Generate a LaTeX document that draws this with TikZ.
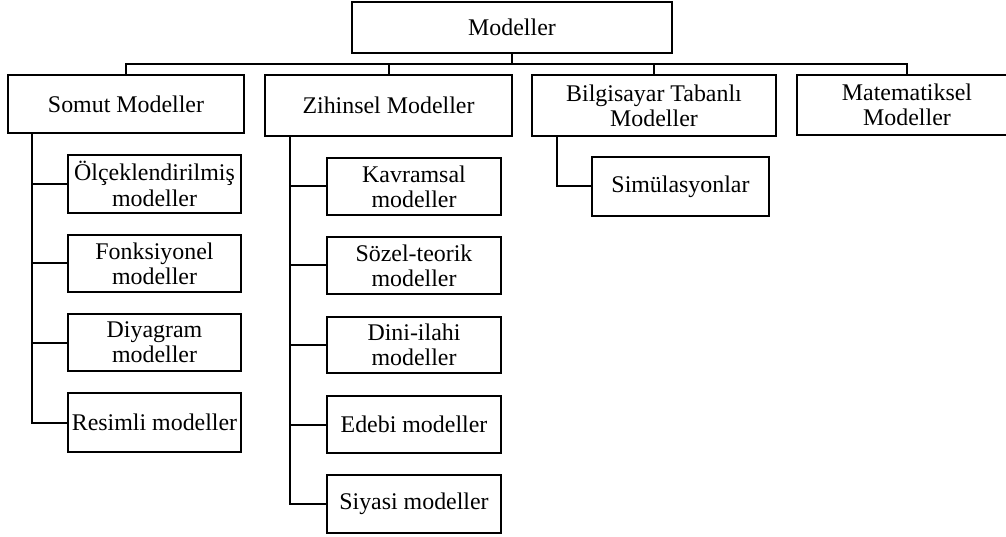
\documentclass[tikz,border=0pt]{standalone}
\usepackage{fontspec}
\setmainfont{Liberation Serif}
\begin{document}
\begin{tikzpicture}[x=1pt,y=-1pt,
  box/.style={draw, line width=2pt, inner sep=0pt, align=center,
    font=\fontsize{23.9}{25.2}\selectfont},
  con/.style={line width=2pt}]
\useasboundingbox (0,0) rectangle (1006,537);
% top
\node[box, minimum width=320pt, minimum height=51pt] (m) at (512,27.5) {Modeller};
% level 1
\node[box, minimum width=236pt, minimum height=58pt] (somut) at (126,104) {Somut Modeller};
\node[box, minimum width=247pt, minimum height=61pt] (zih) at (388.5,105.5) {Zihinsel Modeller};
\node[box, minimum width=244pt, minimum height=61pt] (bil) at (654,105.5) {Bilgisayar Tabanlı\\Modeller};
\node[box, minimum width=220pt, minimum height=60pt] (mat) at (907,105) {Matematiksel\\Modeller};
% somut children
\node[box, minimum width=173pt, minimum height=58pt] (olc) at (154.5,184) {Ölçeklendirilmiş\\modeller};
\node[box, minimum width=173pt, minimum height=57pt] (fon) at (154.5,263.5) {Fonksiyonel\\modeller};
\node[box, minimum width=173pt, minimum height=57pt] (diy) at (154.5,342.5) {Diyagram\\modeller};
\node[box, minimum width=173pt, minimum height=59pt] (res) at (154.5,422.5) {Resimli modeller};
% zihinsel children
\node[box, minimum width=174pt, minimum height=57pt] (kav) at (414,186.5) {Kavramsal\\modeller};
\node[box, minimum width=174pt, minimum height=57pt] (soz) at (414,265.5) {Sözel-teorik\\modeller};
\node[box, minimum width=174pt, minimum height=56pt] (dini) at (414,345) {Dini-ilahi\\modeller};
\node[box, minimum width=174pt, minimum height=57pt] (ede) at (414,424.5) {Edebi modeller};
\node[box, minimum width=174pt, minimum height=58pt] (siy) at (414,504) {Siyasi modeller};
% bilgisayar child
\node[box, minimum width=177pt, minimum height=59pt] (sim) at (680.5,186.5) {Simülasyonlar};
% connectors
\coordinate (bus) at (0,64);
\coordinate (sx) at (32,0);
\coordinate (zx) at (290,0);
\coordinate (bx) at (557,0);
\draw[con] (m.south) -- (m.south |- bus);
\draw[con] (somut.north) -- (somut.north |- bus) -- (mat.north |- bus) -- (mat.north);
\draw[con] (zih.north) -- (zih.north |- bus);
\draw[con] (bil.north) -- (bil.north |- bus);
\draw[con] (somut.south -| sx) |- (res.west);
\draw[con] (olc.west) -- (olc.west -| sx);
\draw[con] (fon.west) -- (fon.west -| sx);
\draw[con] (diy.west) -- (diy.west -| sx);
\draw[con] (zih.south -| zx) |- (siy.west);
\draw[con] (kav.west) -- (kav.west -| zx);
\draw[con] (soz.west) -- (soz.west -| zx);
\draw[con] (dini.west) -- (dini.west -| zx);
\draw[con] (ede.west) -- (ede.west -| zx);
\draw[con] (bil.south -| bx) |- (sim.west);
\end{tikzpicture}
\end{document}
